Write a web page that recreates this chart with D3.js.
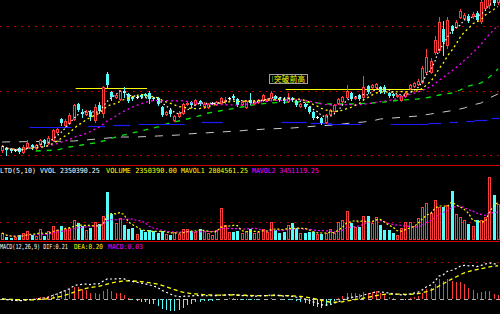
<!DOCTYPE html>
<html>
<head>
<meta charset="utf-8">
<script src="https://cdn.jsdelivr.net/npm/d3@7"></script>
<style>
html,body{margin:0;padding:0;background:#000;overflow:hidden}
</style>
</head>
<body>
<div id="chart"></div>
<script>
// 日K数据 开/高/低/收
var openP=[3.05,3.07,3.06,3.05,3.07,3.03,3.08,3.10,3.07,3.11,3.15,3.12,3.15,3.23,3.36,3.30,3.32,3.36,3.51,3.43,
	3.41,3.43,3.35,3.50,3.42,3.81,3.63,3.58,3.56,3.64,3.61,3.58,3.58,3.60,3.61,3.62,3.57,3.57,3.48,3.41,
	3.45,3.35,3.39,3.42,3.51,3.53,3.51,3.54,3.49,3.48,3.52,3.51,3.52,3.54,3.57,3.59,3.56,3.51,3.48,3.55,
	3.52,3.53,3.55,3.55,3.57,3.59,3.57,3.56,3.54,3.57,3.54,3.49,3.51,3.48,3.43,3.38,3.37,3.33,3.41,3.44,
	3.52,3.54,3.58,3.62,3.57,3.60,3.58,3.69,3.68,3.68,3.68,3.68,3.62,3.61,3.59,3.55,3.59,3.67,3.69,3.71,
	3.73,3.83,3.83,4.03,4.05,4.26,4.10,4.29,4.28,4.38,4.37,4.39,4.39,4.42,4.34,4.47,4.50,4.60,4.53];
var highP=[3.10,3.08,3.07,3.06,3.08,3.10,3.15,3.11,3.11,3.16,3.16,3.19,3.26,3.27,3.37,3.36,3.42,3.51,3.52,3.46,
	3.45,3.45,3.51,3.53,3.69,3.83,3.64,3.61,3.65,3.68,3.62,3.59,3.59,3.61,3.62,3.64,3.58,3.58,3.49,3.44,
	3.47,3.40,3.44,3.52,3.53,3.54,3.56,3.55,3.53,3.52,3.53,3.54,3.58,3.58,3.58,3.61,3.57,3.54,3.55,3.62,
	3.55,3.56,3.61,3.57,3.64,3.60,3.58,3.58,3.62,3.58,3.55,3.52,3.52,3.49,3.44,3.39,3.38,3.41,3.46,3.51,
	3.57,3.59,3.70,3.63,3.59,3.61,3.79,3.70,3.71,3.72,3.69,3.70,3.63,3.62,3.61,3.60,3.64,3.71,3.73,3.76,
	3.89,4.06,3.97,4.19,4.38,4.34,4.38,4.30,4.35,4.46,4.42,4.41,4.43,4.44,4.60,4.65,4.67,4.65,4.69];
var lowP=[3.03,3.00,3.03,3.04,3.02,3.02,3.07,3.06,3.06,3.09,3.09,3.11,3.14,3.22,3.30,3.28,3.31,3.35,3.44,3.38,
	3.40,3.35,3.33,3.42,3.38,3.68,3.55,3.57,3.55,3.58,3.53,3.55,3.57,3.57,3.58,3.52,3.55,3.50,3.39,3.40,
	3.39,3.34,3.38,3.41,3.50,3.49,3.50,3.50,3.47,3.47,3.51,3.50,3.51,3.52,3.56,3.56,3.49,3.50,3.47,3.51,
	3.51,3.52,3.54,3.54,3.56,3.55,3.54,3.52,3.53,3.54,3.49,3.48,3.47,3.42,3.36,3.37,3.31,3.32,3.40,3.43,
	3.51,3.53,3.57,3.55,3.56,3.55,3.55,3.62,3.67,3.67,3.62,3.62,3.58,3.58,3.58,3.54,3.58,3.66,3.68,3.70,
	3.72,3.82,3.82,4.01,4.03,4.00,4.07,4.22,4.27,4.37,4.36,4.33,4.37,4.34,4.32,4.46,4.47,4.50,4.51];
var closeP=[3.09,3.05,3.04,3.05,3.03,3.08,3.12,3.08,3.10,3.15,3.12,3.17,3.25,3.26,3.32,3.34,3.40,3.50,3.45,3.41,
	3.43,3.38,3.48,3.44,3.68,3.70,3.58,3.60,3.64,3.62,3.54,3.56,3.58,3.58,3.59,3.56,3.56,3.51,3.40,3.43,
	3.41,3.39,3.42,3.51,3.52,3.50,3.55,3.51,3.51,3.51,3.52,3.53,3.57,3.55,3.57,3.57,3.50,3.53,3.54,3.52,
	3.54,3.55,3.60,3.56,3.62,3.56,3.55,3.54,3.58,3.55,3.50,3.51,3.48,3.43,3.37,3.38,3.32,3.40,3.45,3.50,
	3.56,3.58,3.64,3.56,3.58,3.56,3.68,3.63,3.70,3.71,3.63,3.63,3.59,3.59,3.60,3.59,3.62,3.70,3.72,3.74,
	3.87,3.98,3.94,4.15,4.33,4.13,4.35,4.24,4.33,4.44,4.40,4.34,4.41,4.35,4.53,4.60,4.63,4.52,4.63];
// 成交量（万手）
var vol=[45.7,19.6,13.1,19.6,32.6,45.7,58.8,32.6,26.1,71.8,26.1,58.8,91.4,65.3,91.4,71.8,78.3,130.6,111.0,91.4,
	65.3,78.3,117.5,104.5,156.7,313.4,169.8,111.0,143.6,97.9,71.8,78.3,39.2,65.3,52.2,65.3,58.8,45.7,58.8,39.2,
	32.6,52.2,39.2,71.8,71.8,58.8,52.2,71.8,58.8,45.7,32.6,65.3,208.9,97.9,52.2,52.2,58.8,45.7,58.8,71.8,
	45.7,52.2,71.8,52.2,117.5,65.3,45.7,52.2,97.9,111.0,78.3,45.7,45.7,52.2,52.2,39.2,39.2,45.7,71.8,45.7,
	117.5,130.6,189.3,111.0,84.9,84.9,156.7,156.7,111.0,150.2,97.9,65.3,65.3,45.7,32.6,78.3,117.5,117.5,91.4,143.6,
	215.5,241.6,176.3,261.2,215.5,215.5,228.5,319.9,169.8,150.2,130.6,104.5,91.4,130.6,130.6,150.2,411.3,293.8,235.04];
// 长周期均线（按K线序号取值）
var ma60Pts=[[8,3.04],[13,3.05],[16,3.08],[19,3.10],[22,3.12],[25,3.15],[27,3.18],[30,3.21],[33,3.24],[35,3.26],
	[37,3.28],[39,3.31],[42,3.34],[46,3.38],[49,3.42],[53,3.45],[57,3.48],[61,3.51],[64,3.52],[69,3.53],[72,3.53],
	[78,3.51],[83,3.51],[88,3.52],[91,3.53],[95,3.55],[99,3.56],[102,3.58],[104,3.60],[107,3.62],[109,3.65],
	[111,3.69],[114,3.72],[116,3.78],[118,3.86]];
var ma120Pts=[[0,3.13],[17,3.14],[28,3.18],[32,3.18],[37,3.19],[42,3.20],[44,3.21],[48,3.22],[52,3.23],[56,3.24],
	[59,3.25],[63,3.26],[69,3.27],[75,3.29],[79,3.30],[83,3.32],[86,3.33],[88,3.34],[90,3.36],[93,3.37],[96,3.38],
	[99,3.39],[102,3.41],[105,3.43],[108,3.45],[110,3.47],[112,3.50],[114,3.52],[116,3.57],[118,3.61]];
var ma250Segs=[[7,16,3.28],[21,24,3.29],[27,30,3.30],[33,43,3.31],[48,52,3.33],[67,72,3.33],[74,78,3.32],[78,85,3.31],
	[93,101,3.31],[102,104,3.32],[107,108,3.33],[111,112,3.34],[113,115,3.35],[117,118,3.37]];
// 压力线 [起, 止, 价]
var resistLines=[[18,34,3.67],[68,100,3.66]];
var noteLabel={i:64,price:3.81,text:'突破前高'};
var priceGrid=[3.00,3.645,4.29];
var volGrid=[117.5];
var macdGrid=[0.233];
var volLegend=[['LTD(5,10) VVOL 2350390.25','#ffffff'],['VOLUME 2350390.00','#ffff00'],
	['MAVOL1 2804561.25','#ffff00'],['MAVOL2 3451119.25','#ff00ff']];
var macdLegend=[['MACD(12,26,9) DIF:0.21','#ffffff'],['DEA:0.20','#ffff00'],['MACD:0.03','#ff00ff']];

var W=500,H=314,N=closeP.length;
var RED='#ff3c3c',CYAN='#54fcfc';

var svg=d3.select('#chart').append('svg').attr('width',W).attr('height',H)
	.attr('xmlns','http://www.w3.org/2000/svg').style('display','block').style('background','#000');
var defs=svg.append('defs');
defs.append('clipPath').attr('id','clipK').append('rect').attr('x',0).attr('y',0).attr('width',W).attr('height',163);
defs.append('clipPath').attr('id','clipV').append('rect').attr('x',0).attr('y',175).attr('width',W).attr('height',66);
defs.append('clipPath').attr('id','clipM').append('rect').attr('x',0).attr('y',251).attr('width',W).attr('height',63);

var x=d3.scaleBand().domain(d3.range(N)).range([0,W]);
function xf(i){return x.step()*i+x.step()/2;}
function cx(i){return Math.round(xf(i));}
var y=d3.scaleLinear().domain([3.00,4.29]).range([155,26]);
var yv=d3.scaleLinear().domain([0,235.04]).range([240,204]);
var ym=d3.scaleLinear().domain([0,0.2]).range([299,267]);

function ma(arr,n){
	return arr.map(function(d,i){return d3.mean(arr.slice(Math.max(0,i-n+1),i+1));});
}

// 网格
function dotted(yy){
	svg.append('line').attr('x1',0).attr('x2',W).attr('y1',Math.round(yy)+0.5).attr('y2',Math.round(yy)+0.5)
		.attr('stroke','#c00000').attr('stroke-dasharray','2,5');
}
priceGrid.forEach(function(p){dotted(y(p));});
volGrid.forEach(function(v){dotted(yv(v));});
macdGrid.forEach(function(v){dotted(ym(v));});
[165,241].forEach(function(yy){
	svg.append('line').attr('x1',0).attr('x2',W).attr('y1',yy+0.5).attr('y2',yy+0.5).attr('stroke','#d00000');
});

// 主图
var gK=svg.append('g').attr('clip-path','url(#clipK)');
var ptLine=d3.line().x(function(d){return xf(d[0]);}).y(function(d){return y(d[1]);});
gK.append('path').attr('d',ptLine(ma120Pts)).attr('fill','none').attr('stroke','#c8c8c8').attr('stroke-dasharray','8,9');
gK.append('path').attr('d',ptLine(ma60Pts)).attr('fill','none').attr('stroke','#00e600').attr('stroke-width',1.3).attr('stroke-dasharray','5,6');
ma250Segs.forEach(function(s){
	gK.append('line').attr('x1',xf(s[0])-x.step()/2).attr('x2',xf(s[1])+x.step()/2)
		.attr('y1',Math.round(y(s[2]))+0.5).attr('y2',Math.round(y(s[2]))+0.5).attr('stroke','#1c1cff').attr('stroke-width',1.2);
});
resistLines.forEach(function(s){
	gK.append('line').attr('x1',xf(s[0])-x.step()/2).attr('x2',xf(s[1])+x.step()/2)
		.attr('y1',Math.round(y(s[2]))+0.5).attr('y2',Math.round(y(s[2]))+0.5).attr('stroke','#ffff00');
});

var gC=gK.append('g').attr('shape-rendering','crispEdges');
d3.range(N).forEach(function(i){
	var o=y(openP[i]),c=y(closeP[i]),h=Math.round(y(highP[i])),l=Math.round(y(lowP[i]));
	var top=Math.round(Math.min(o,c)),bot=Math.round(Math.max(o,c)),px=cx(i);
	if(closeP[i]>openP[i]){	//阳线 空心红
		gC.append('line').attr('x1',px+0.5).attr('x2',px+0.5).attr('y1',h).attr('y2',top).attr('stroke',RED);
		gC.append('line').attr('x1',px+0.5).attr('x2',px+0.5).attr('y1',bot+1).attr('y2',l+1).attr('stroke',RED);
		gC.append('rect').attr('x',px-0.5).attr('y',top+0.5).attr('width',2).attr('height',Math.max(bot-top,1))
			.attr('fill','#000').attr('stroke',RED);
	}else if(closeP[i]<openP[i]){	//阴线 实心青
		gC.append('line').attr('x1',px+0.5).attr('x2',px+0.5).attr('y1',h).attr('y2',l+1).attr('stroke',CYAN);
		gC.append('rect').attr('x',px-1).attr('y',top).attr('width',3).attr('height',Math.max(bot-top,1)).attr('fill',CYAN);
	}else{	//十字
		gC.append('line').attr('x1',px+0.5).attr('x2',px+0.5).attr('y1',h).attr('y2',l+1).attr('stroke','#fff');
		gC.append('rect').attr('x',px-1).attr('y',top).attr('width',3).attr('height',1).attr('fill','#fff');
	}
});

var idxLine=d3.line().x(function(d,i){return xf(i);}).y(function(d){return y(d);});
gK.append('path').attr('d',idxLine(ma(closeP,20))).attr('fill','none').attr('stroke','#ff00ff').attr('stroke-width',1.3).attr('stroke-dasharray','2,3');
gK.append('path').attr('d',idxLine(ma(closeP,10))).attr('fill','none').attr('stroke','#ffff00').attr('stroke-width',1.3).attr('stroke-dasharray','2,3');
gK.append('path').attr('d',idxLine(ma(closeP,5))).attr('fill','none').attr('stroke','#ffffff').attr('stroke-width',1.2).attr('stroke-dasharray','1.5,2.5');

// 标注
var nx=xf(noteLabel.i)-x.step()/2,ny=Math.round(y(noteLabel.price));
gK.append('rect').attr('x',Math.round(nx)+0.5).attr('y',ny+0.5).attr('width',38).attr('height',9)
	.attr('fill','#000').attr('stroke','#a0a0a0');
gK.append('rect').attr('x',Math.round(nx)+3).attr('y',ny+2).attr('width',1).attr('height',6).attr('fill','#2e6b2e');
gK.append('text').attr('x',Math.round(nx)+5).attr('y',ny+8).text(noteLabel.text)
	.attr('fill','#ffff00').attr('font-family','"Noto Sans CJK SC"').attr('font-size',7.5).attr('textLength',31);

// 成交量
var gV=svg.append('g').attr('clip-path','url(#clipV)');
var gVb=gV.append('g').attr('shape-rendering','crispEdges');
d3.range(N).forEach(function(i){
	var top=Math.round(yv(vol[i])),px=cx(i);
	if(closeP[i]>=openP[i]){
		gVb.append('rect').attr('x',px-0.5).attr('y',top+0.5).attr('width',2).attr('height',239-top)
			.attr('fill','#000').attr('stroke',RED);
	}else{
		gVb.append('rect').attr('x',px-1).attr('y',top).attr('width',3).attr('height',240-top).attr('fill',CYAN);
	}
});
var vLine=d3.line().x(function(d,i){return xf(i);}).y(function(d){return yv(d);});
gV.append('path').attr('d',vLine(ma(vol,10))).attr('fill','none').attr('stroke','#ff00ff').attr('stroke-width',1.2).attr('stroke-dasharray','2,2');
gV.append('path').attr('d',vLine(ma(vol,5))).attr('fill','none').attr('stroke','#ffff00').attr('stroke-width',1.2).attr('stroke-dasharray','2,2');

// MACD
var e12=closeP[0],e26=closeP[0],dea=0,difA=[],deaA=[],barA=[];
closeP.forEach(function(c){
	e12=(2*c+11*e12)/13;
	e26=(2*c+25*e26)/27;
	var d=e12-e26;
	dea=(2*d+8*dea)/10;
	difA.push(d);deaA.push(dea);barA.push(2*(d-dea));
});
var gM=svg.append('g').attr('clip-path','url(#clipM)');
gM.append('line').attr('x1',0).attr('x2',W).attr('y1',Math.round(ym(0))+0.5).attr('y2',Math.round(ym(0))+0.5)
	.attr('stroke','#b4b4b4').attr('stroke-dasharray','4,4');
var gMb=gM.append('g').attr('shape-rendering','crispEdges');
barA.forEach(function(b,i){
	gMb.append('line').attr('x1',cx(i)+0.5).attr('x2',cx(i)+0.5).attr('y1',Math.round(ym(0))).attr('y2',Math.round(ym(b)))
		.attr('stroke',b>=0?RED:CYAN);
});
var mLine=d3.line().x(function(d,i){return xf(i);}).y(function(d){return ym(d);});
gM.append('path').attr('d',mLine(deaA)).attr('fill','none').attr('stroke','#ffff00').attr('stroke-width',1.3).attr('stroke-dasharray','4,3');
gM.append('path').attr('d',mLine(difA)).attr('fill','none').attr('stroke','#ffffff').attr('stroke-width',1.2).attr('stroke-dasharray','2,2.5');

// 图例：等宽字体按横向比例压缩到原图宽度
function legend(items,xs,ws,yy){
	items.forEach(function(d,i){
		var t=svg.append('text').attr('x',0).attr('y',0).text(d[0]).attr('fill',d[1])
			.attr('font-family','"DejaVu Sans Mono"').attr('font-size',7);
		var w=t.node().getComputedTextLength();
		t.attr('transform','translate('+xs[i]+','+yy+') scale('+(ws[i]/w)+',1)');
	});
}
legend(volLegend,[0,106,181,252],[100,71,67,67],172.5);
legend(macdLegend,[0,74,108],[68,29,35],248.5);
</script>
</body>
</html>
